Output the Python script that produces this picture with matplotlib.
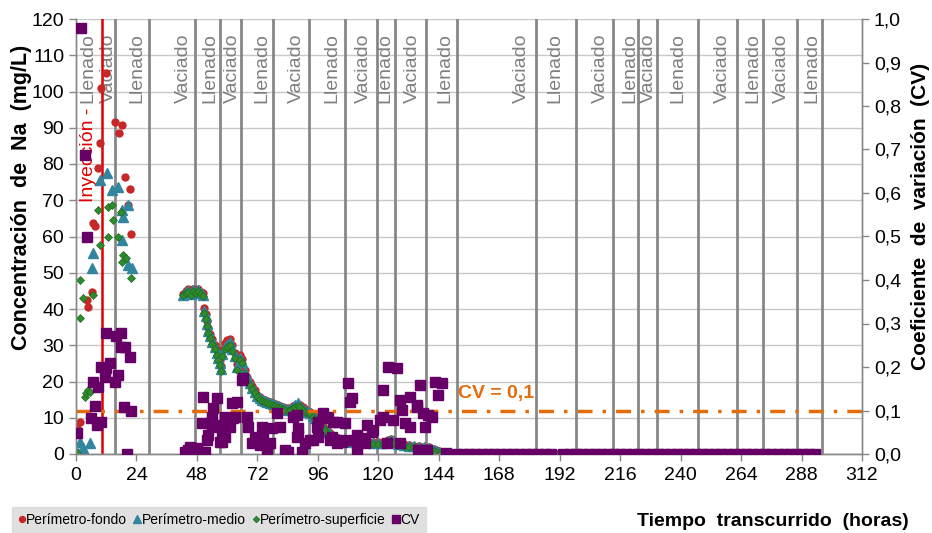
import matplotlib
matplotlib.use('Agg')
import matplotlib.pyplot as plt
from matplotlib import font_manager as fm
from matplotlib.ticker import FuncFormatter, MultipleLocator

names = {f.name for f in fm.fontManager.ttflist}
base = 'Liberation Sans' if 'Liberation Sans' in names else 'DejaVu Sans'
narrow = 'Liberation Sans Narrow' if 'Liberation Sans Narrow' in names else base
plt.rcParams['font.family'] = [base, 'DejaVu Sans']

# ---------------- data ----------------
# early phase (hours, mg/L)
fondo_t_early = [0.4, 1.6, 4.4, 4.8, 6.3, 6.7, 7.5, 8.7, 9.5, 9.9, 11.9, 15.5, 17.1, 18.3, 19.4, 20.6, 21.4, 21.8]
fondo_v_early = [7.2, 8.8, 42.5, 40.6, 44.7, 63.7, 62.9, 78.9, 85.8, 101.0, 105.0, 91.6, 88.6, 90.8, 76.4, 68.7, 73.1, 60.7]

medio_t_early = [0.8, 1.6, 2.8, 5.6, 6.3, 6.7, 9.5, 12.3, 14.3, 16.7, 18.3, 18.3, 18.7, 20.6, 20.6, 22.2]
medio_v_early = [0.3, 3.3, 1.7, 3.0, 51.3, 55.4, 75.6, 77.5, 72.8, 73.7, 67.3, 59.0, 65.4, 68.7, 52.1, 51.3]

sup_t_early = [0.4, 1.6, 1.6, 2.8, 3.6, 4.0, 4.8, 5.6, 6.7, 8.7, 9.5, 12.7, 12.7, 14.3, 14.7, 16.7, 17.9, 18.3, 18.7, 19.8, 21.8]
sup_v_early = [0.3, 48.0, 37.5, 43.0, 15.7, 16.8, 17.7, 17.1, 43.9, 67.3, 57.7, 68.1, 59.9, 68.7, 64.6, 59.9, 66.8, 53.0, 54.9, 54.1, 48.6]

# decay phase (shared sampling times, hours)
t_dec = [42.5, 43.5, 44.5, 45.5, 46.5, 47.5, 48.5, 49.5, 50.5, 51.0,
         51.5, 52.0, 52.5, 53.0, 54.0, 55.0, 56.0, 56.5, 57.0, 57.5,
         58, 59, 60, 61, 62, 63, 64, 65, 66, 67,
         68, 69, 70, 71, 72, 73, 74, 75, 76, 77,
         78, 79, 80, 81, 82, 83, 84, 85, 86, 87,
         88, 89, 90, 91, 92, 93, 94, 95, 96, 97,
         98, 99, 100, 101, 102, 103, 104, 106, 108, 110,
         112, 114, 116, 118, 120, 122, 124, 125, 126, 128,
         130, 132, 134, 136, 138, 140, 142, 143, 144, 145,
         146, 147, 148, 150]
medio_v_dec = [43.8, 44.6, 45.0, 44.2, 45.3, 44.8, 45.2, 44.5, 43.9, 39.5,
               38.0, 36.0, 34.0, 32.5, 31.0, 29.5, 28.0, 26.5, 25.0, 23.5,
               27.5, 29.5, 30.2, 30.8, 29.0, 27.0, 24.0, 26.5, 25.5, 22.5,
               20.5, 19.5, 18.3, 17.2, 16.0, 15.4, 15.0, 14.6, 14.3, 14.0,
               13.8, 13.5, 13.3, 13.0, 12.8, 12.5, 12.2, 12.5, 12.9, 13.4,
               14.2, 13.2, 12.5, 12.0, 11.5, 11.2, 10.6, 9.9, 9.0, 8.2,
               7.4, 6.7, 6.0, 5.4, 4.8, 4.4, 4.1, 3.9, 3.7, 3.4,
               3.3, 3.3, 3.2, 3.1, 3.0, 3.0, 3.6, 3.9, 3.3, 2.7,
               2.5, 2.3, 2.1, 1.9, 1.8, 1.7, 1.2, 0.9, 0.6, 0.4,
               0.3, 0.2, 0.1, 0.0]
fondo_v_dec = [44.2, 44.9, 45.4, 44.6, 45.6, 45.0, 45.5, 44.8, 44.3, 40.2,
               38.6, 36.8, 34.8, 33.2, 31.8, 30.2, 28.8, 27.3, 25.8, 24.2,
               28.6, 30.6, 31.5, 31.8, 30.0, 28.0, 24.8, 27.3, 26.3, 23.3,
               21.2, 20.0, 18.8, 17.6, 16.4, 15.8, 15.3, 14.9, 14.6, 14.3,
               14.1, 13.9, 13.6, 13.3, 13.1, 12.8, 12.6, 12.8, 13.2, 13.6,
               13.9, 13.5, 12.9, 12.4, 11.9, 11.5, 11.0, 10.3, 9.4, 8.6,
               7.8, 7.0, 6.3, 5.7, 5.1, 4.7, 4.4, 4.2, 3.9, 3.6,
               3.5, 3.5, 3.4, 3.3, 3.3, 3.2, 3.9, 4.1, 3.5, 2.9,
               2.7, 2.5, 2.3, 2.1, 2.0, 1.9, 1.4, 1.1, 0.8, 0.6,
               0.4, 0.3, 0.2, 0.0]
sup_v_dec = [43.9, 44.3, 44.8, 44.0, 45.0, 44.5, 44.9, 44.2, 43.6, 38.8,
             37.2, 35.4, 33.5, 32.0, 30.4, 29.0, 27.4, 26.0, 24.6, 23.0,
             27.0, 29.0, 29.6, 30.2, 28.4, 26.4, 23.2, 26.0, 25.0, 22.0,
             20.0, 19.0, 17.9, 16.8, 15.7, 15.1, 14.7, 14.3, 14.0, 13.7,
             13.5, 13.2, 13.0, 12.7, 12.5, 12.2, 12.0, 12.2, 12.6, 13.0,
             13.3, 12.9, 12.2, 11.7, 11.2, 10.9, 10.3, 9.6, 8.7, 7.9,
             7.1, 6.4, 5.7, 5.1, 4.5, 4.1, 3.8, 3.6, 3.4, 3.1,
             3.0, 3.0, 2.9, 2.8, 2.7, 2.7, 3.3, 3.6, 3.0, 2.4,
             2.2, 2.0, 1.8, 1.6, 1.5, 1.4, 0.9, 0.6, 0.4, 0.2,
             0.1, 0.0, 0.0, 0.0]
sup_t_tail = [152.0, 191.0]
sup_v_tail = [0.0, 0.0]

# coefficient of variation
cv_t = [2.0, 0.4, 3.6, 4.4, 11.9, 15.9, 17.9, 17.9, 19.4, 21.4, 9.9, 11.9, 13.5, 11.5, 16.7,
        15.5, 6.7, 8.7, 7.5, 19.0, 21.8, 6.0, 9.9, 8.3, 20.2,
        43.3, 45.2, 47.2, 50.4, 44.4, 48.0, 51.2,
        50.4, 56.0, 54.4, 50.0, 54.0, 54.0, 52.4, 52.0, 57.9, 58.3, 59.1, 61.9, 63.9, 62.3, 61.1,
        53.2, 56.0, 57.9, 59.1, 60.3, 63.1, 57.1,
        67.9, 68.3, 65.9, 66.3, 69.8, 71.0, 73.0, 74.2, 75.8, 77.0, 73.8, 77.8, 79.8, 81.0, 82.9,
        84.1, 87.7, 88.1, 89.7, 90.9, 92.9, 95.6, 96.0, 98.0, 100.0, 101.6, 102.0, 103.6, 105.6,
        107.9, 108.7, 109.5, 109.9, 111.5, 113.5, 115.5, 117.9, 121.8, 121.8, 123.8, 127.4, 128.6,
        129.4, 132.5, 135.3, 136.5, 137.7, 139.7, 142.5, 145.2, 143.7, 135.7, 139.3, 120.6, 125.8,
        130.6, 114.7, 123.4, 128.6, 94.0, 106.7, 105.6, 138.5, 141.3, 132.5, 135.3, 111.5, 112.7,
        117.5, 87.7, 88.1, 86.1, 96.0, 100.8, 103.6, 99.6, 147.0]
cv_v = [0.980, 0.048, 0.687, 0.499, 0.278, 0.271, 0.278, 0.246, 0.246, 0.223, 0.200, 0.198, 0.209, 0.177, 0.182,
        0.166, 0.166, 0.154, 0.110, 0.108, 0.099, 0.083, 0.074, 0.067, 0.000,
        0.005, 0.016, 0.009, 0.005, 0.009, 0.014, 0.005,
        0.131, 0.129, 0.106, 0.071, 0.085, 0.067, 0.044, 0.032, 0.028, 0.067, 0.085, 0.117, 0.120, 0.083, 0.062,
        0.071, 0.062, 0.051, 0.039, 0.071, 0.085, 0.028,
        0.085, 0.062, 0.170, 0.175, 0.025, 0.039, 0.021, 0.044, 0.009, 0.025, 0.062, 0.060, 0.094, 0.062, 0.009,
        0.005, 0.090, 0.044, 0.005, 0.025, 0.032, 0.062, 0.074, 0.094, 0.083, 0.039, 0.074, 0.025, 0.032,
        0.163, 0.120, 0.129, 0.032, 0.009, 0.037, 0.067, 0.055, 0.147, 0.085, 0.200, 0.198, 0.124,
        0.101, 0.131, 0.113, 0.159, 0.094, 0.090, 0.166, 0.163, 0.136, 0.009, 0.009, 0.078, 0.078,
        0.071, 0.025, 0.025, 0.025, 0.032, 0.071, 0.028, 0.062, 0.085, 0.062, 0.108, 0.044, 0.032,
        0.051, 0.039, 0.060, 0.085, 0.039, 0.032, 0.074, 0.085, 0.003]
cv_t_tail = [151.0, 153.5, 156.0, 158.5, 161.0, 163.5, 166.0, 168.5, 171.0, 173.5,
             176.0, 178.5, 181.0, 183.5, 186.0, 188.5,
             193.5, 196.0, 198.5, 201.0, 203.5, 206.0, 208.5, 211.0, 213.5, 216.0,
             218.5, 221.0, 223.5, 226.0, 228.5, 231.0, 233.5, 236.0, 238.5, 241.0,
             243.5, 246.0, 248.5, 251.0, 253.5, 256.0, 258.5, 261.0, 263.5, 266.0,
             268.5, 271.0, 273.5, 276.0, 278.5, 281.0, 283.5, 286.0, 288.5, 291.0, 293.5]
cv_v_tail = [0.0, 0.0, 0.0, 0.0, 0.0, 0.0, 0.0, 0.0, 0.0, 0.0,
             0.0, 0.0, 0.0, 0.0, 0.0, 0.0,
             0.0, 0.0, 0.0, 0.0, 0.0, 0.0, 0.0, 0.0, 0.0, 0.0,
             0.0, 0.0, 0.0, 0.0, 0.0, 0.0, 0.0, 0.0, 0.0, 0.0,
             0.0, 0.0, 0.0, 0.0, 0.0, 0.0, 0.0, 0.0, 0.0, 0.0,
             0.0, 0.0, 0.0, 0.0, 0.0, 0.0, 0.0, 0.0, 0.0, 0.0, 0.0]

cv_threshold = 0.1
injection_time = 10.3
event_times = [15.5, 29.0, 47.2, 57.1, 65.5, 78.2, 92.5, 106.7, 119.4, 126.6, 138.9,
               151.2, 182.5, 198.4, 213.1, 223.0, 230.6, 246.8, 262.3, 272.6, 286.1, 296.0]
phase_label_x = [12.7, 24.2, 42.5, 53.2, 61.9, 73.8, 87.3, 101.6, 113.9, 122.6, 133.7,
                 146.4, 177.0, 190.0, 208.0, 219.8, 227.4, 238.9, 256.7, 268.7, 280.2, 292.1]
phase_labels = ['Vaciado', 'Llenado', 'Vaciado', 'Llenado', 'Vaciado', 'Llenado', 'Vaciado',
                'Llenado', 'Vaciado', 'Llenado', 'Vaciado', 'Llenado', 'Vaciado', 'Llenado',
                'Vaciado', 'Llenado', 'Vaciado', 'Llenado', 'Vaciado', 'Llenado', 'Vaciado', 'Llenado']
first_label_x = 4.8

x_ticks = [0, 24, 48, 72, 96, 120, 144, 168, 192, 216, 240, 264, 288, 312]

# ---------------- colours ----------------
c_red = '#C62828'
c_teal = '#31859C'
c_green = '#2E8B2E'
c_purple = '#660066'
c_orange = '#E46C0A'
c_line = '#878787'
c_grid = '#C8C8C8'

fig = plt.figure(figsize=(9.32, 5.33), dpi=100)
ax = fig.add_axes([76/932, 79/533, 786/932, 435/533])
ax2 = ax.twinx()

ax.set_xlim(0, 312)
ax.set_ylim(0, 120)
ax2.set_ylim(0, 1.0)

ax.set_xticks(x_ticks)
ax.yaxis.set_major_locator(MultipleLocator(10))
ax2.yaxis.set_major_locator(MultipleLocator(0.1))
ax2.yaxis.set_major_formatter(FuncFormatter(lambda v, p: f"{v:.1f}".replace('.', ',')))

ax.grid(axis='y', color=c_grid, lw=1.0, zorder=0)
ax.set_axisbelow(True)

for s in ['top']:
    ax.spines[s].set_visible(False)
    ax2.spines[s].set_visible(False)
for a in (ax, ax2):
    for s in ['left', 'right', 'bottom']:
        a.spines[s].set_color(c_line)
        a.spines[s].set_linewidth(1.0)

ax.tick_params(axis='both', labelsize=14, colors='black', length=5, width=1, color=c_line)
ax2.tick_params(axis='y', labelsize=14, colors='black', length=5, width=1, color=c_line)
ax.tick_params(axis='x', pad=4)

# vertical event lines
for t in event_times:
    ax.axvline(t, color=c_line, lw=2.0, zorder=1)
ax.axvline(injection_time, color='#E00000', lw=1.8, zorder=1.5)

# phase labels
for xl, lab in zip(phase_label_x, phase_labels):
    ax.text(xl, 96.8, lab, rotation=90, ha='center', va='bottom', fontsize=14, color='#7F7F7F', zorder=1.2)
ax.text(first_label_x, 96.8, 'Llenado', rotation=90, ha='center', va='bottom', fontsize=14, color='#7F7F7F', zorder=1.2)
ax.text(first_label_x, 95.5, 'Inyección -', rotation=90, ha='center', va='top', fontsize=14, color='#E00000', zorder=1.2)

# concentration series
ax.plot(fondo_t_early + t_dec, fondo_v_early + fondo_v_dec, ls='none', marker='o', ms=5.0,
        color=c_red, mec=c_red, zorder=3, label='Perímetro-fondo')
ax.plot(medio_t_early + t_dec, medio_v_early + medio_v_dec, ls='none', marker='^', ms=6.5,
        color=c_teal, mec=c_teal, zorder=3, label='Perímetro-medio')
ax.plot(sup_t_early + t_dec + sup_t_tail, sup_v_early + sup_v_dec + sup_v_tail, ls='none', marker='D', ms=4.0,
        color=c_green, mec='#1F6B1F', mew=0.5, zorder=3, label='Perímetro-superficie')

# CV
ax2.axhline(cv_threshold, color=c_orange, lw=2.5, dashes=(4.3, 2.9, 1.0, 2.9), zorder=2)
ax2.plot(cv_t + cv_t_tail, cv_v + cv_v_tail, ls='none', marker='s', ms=6.5,
         color=c_purple, mec=c_purple, zorder=3, label='CV')
ax2.text(151.6, 0.14, 'CV = 0,1', color=c_orange, fontsize=14, fontweight='bold', ha='left', va='center')

# axis titles
fig.text(22/932, 1 - 197/533, 'Concentración  de  Na  (mg/L)', rotation=90, ha='center', va='center',
         fontsize=15.5, fontweight='bold')
fig.text(921/932, 1 - 216/533, 'Coeficiente  de  variación  (CV)', rotation=90, ha='center', va='center',
         fontsize=15, fontweight='bold')
fig.text(773/932, 1 - 521/533, 'Tiempo  transcurrido  (horas)', ha='center', va='center',
         fontsize=14, fontweight='bold', family=[narrow, 'DejaVu Sans'])

# legend
h1, l1 = ax.get_legend_handles_labels()
h2, l2 = ax2.get_legend_handles_labels()
leg = fig.legend(h1 + h2, l1 + l2, loc='lower left', bbox_to_anchor=(12/932, 0.0), ncol=4,
                 frameon=True, fancybox=False, handlelength=0.5, handletextpad=0.05, columnspacing=0.5,
                 borderpad=0.45, borderaxespad=0.0, markerscale=0.85,
                 prop={'family': [narrow, 'DejaVu Sans'], 'size': 10})
leg.get_frame().set_facecolor('#D9D9D9')
leg.get_frame().set_edgecolor('#D9D9D9')

fig.savefig('out.png', dpi=100)
